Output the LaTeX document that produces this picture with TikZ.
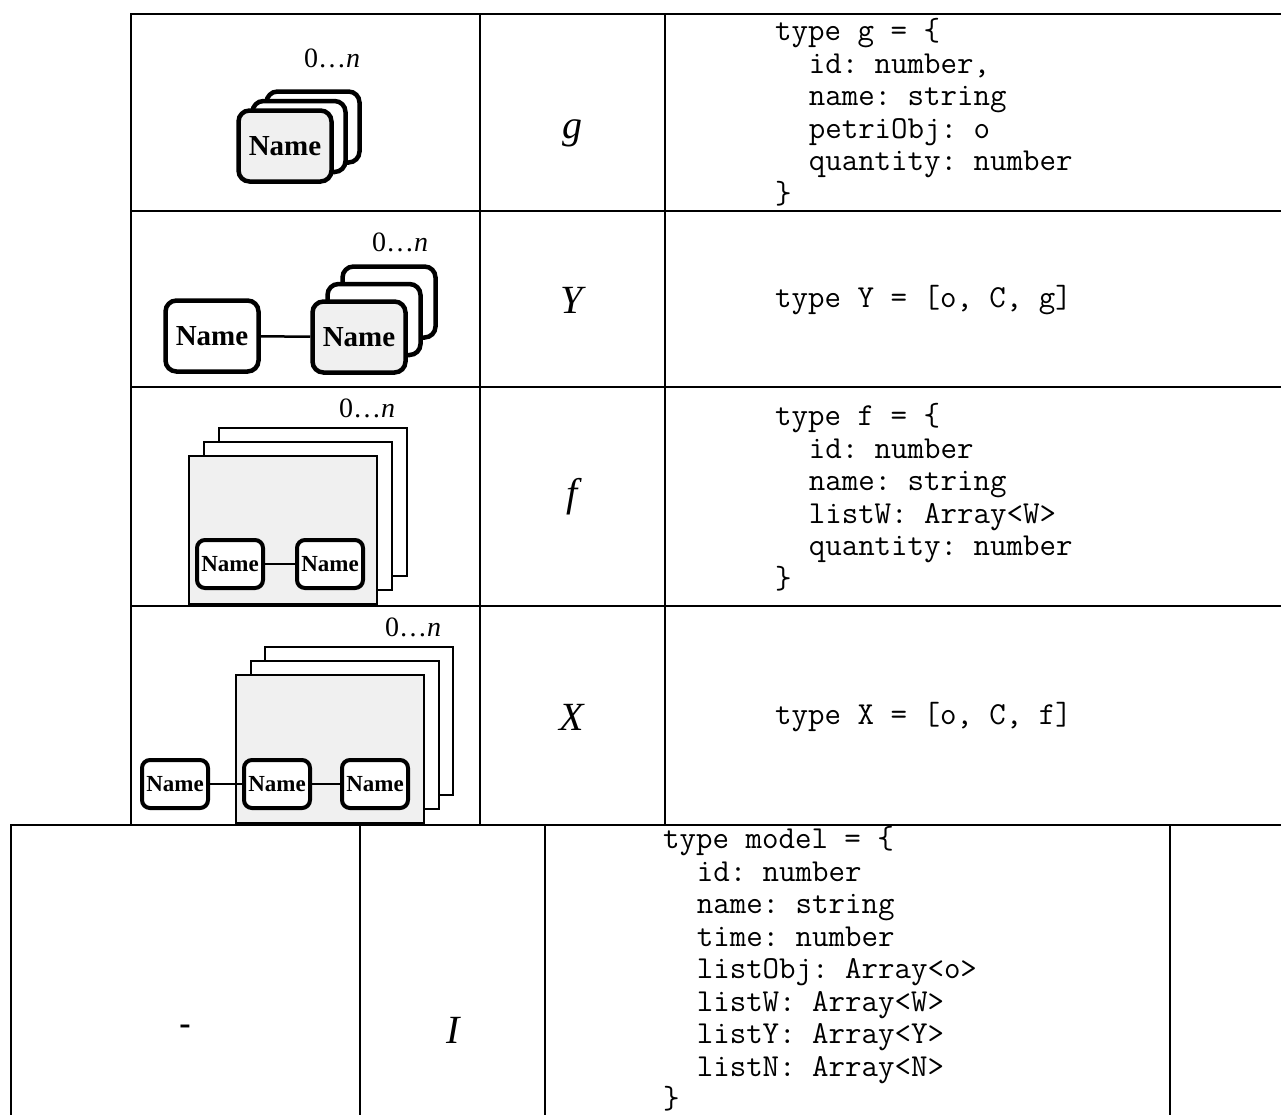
\documentclass[tikz,border=0pt]{standalone}
\usepackage{fontspec}
\setmainfont{Liberation Serif}
\usetikzlibrary{positioning}

\definecolor{cardgray}{RGB}{240,240,240}
\newcommand\codeind{\hspace*{33.6pt}}
\tikzset{
  card/.style={draw, line width=4.5pt, rounded corners=11pt, fill=white, minimum width=93pt,
    minimum height=71pt, inner sep=0pt, font=\bfseries\fontsize{29}{29}\selectfont},
  smallcard/.style={card, line width=4pt, rounded corners=8pt, minimum width=66pt,
    minimum height=48pt, font=\bfseries\fontsize{23}{23}\selectfont},
  sheet/.style={draw, line width=2pt, fill=white, minimum width=188pt, minimum height=148pt, inner sep=0pt},
  mult/.style={font=\fontsize{28}{28}\selectfont},
  symb/.style={font=\itshape\fontsize{40}{40}\selectfont},
  codetext/.style={font=\ttfamily\frenchspacing\fontsize{32}{32.5}\selectfont, align=left, anchor=west, inner sep=0pt},
  rule/.style={line width=2.7pt},
  wire/.style={line width=2.5pt}
}

\begin{document}
\begin{tikzpicture}[x=1pt, y=-1pt]
  \useasboundingbox (0,0) rectangle (1281,1114);
  \clip (0,0) rectangle (1281,1114);

  % g
  \foreach \k in {2,1}
    \node[card] (g\k) at (285+14*\k,146-9.5*\k) {};
  \node[card, fill=cardgray] (g0) at (285,146) {Name};
  \node[mult] (gn) at (332,58) {0\ldots\textit{n}};

  % Y
  \node[card] (Yo) at (212,336) {Name};
  \foreach \k in {2,1}
    \node[card] (Y\k) at (359+15*\k,337-17.5*\k) {};
  \node[card, fill=cardgray] (Y0) at (359,337) {Name};
  \draw[wire] (Yo) -- (Y0);
  \node[mult] (Yn) at (400,242) {0\ldots\textit{n}};

  % f
  \foreach \k in {2,1}
    \node[sheet] (f\k) at (283+15*\k,530-14*\k) {};
  \node[sheet, fill=cardgray] (f0) at (283,530) {};
  \node[smallcard] (fa) at (230,564) {Name};
  \node[smallcard] (fb) at (330,564) {Name};
  \draw[wire] (fa) -- (fb);
  \node[mult] (fn) at (367,408) {0\ldots\textit{n}};

  % X
  \foreach \k in {2,1}
    \node[sheet] (X\k) at (330+14.5*\k,749-14*\k) {};
  \node[sheet, fill=cardgray] (X0) at (330,749) {};
  \node[smallcard] (Xo) at (175,784) {Name};
  \node[smallcard] (Xa) at (277,784) {Name};
  \node[smallcard] (Xb) at (375,784) {Name};
  \draw[wire] (Xo) -- (Xa) (Xa) -- (Xb);
  \node[mult] (Xn) at (413,627) {0\ldots\textit{n}};

  \node[symb] (lg) at (572,133) {g};
  \node[symb] (lY) at (572,300) {Y};
  \node[symb] (lf) at (572,497) {f};
  \node[symb] (lX) at (572,717) {X};
  \node[symb] (lI) at (453,1030) {I};
  \node[mult, font=\bfseries\fontsize{34}{34}\selectfont] (dash) at (185,1030) {-};

  \node[codetext] (cg) at (775,112) {type g = \{\\
    \codeind id: number,\\
    \codeind name: string\\
    \codeind petriObj: o\\
    \codeind quantity: number\\
    \}};
  \node[codetext] (cY) at (775,300) {type Y = [o, C, g]};
  \node[codetext] (cf) at (775,497) {type f = \{\\
    \codeind id: number\\
    \codeind name: string\\
    \codeind listW: Array<W>\\
    \codeind quantity: number\\
    \}};
  \node[codetext] (cX) at (775,717) {type X = [o, C, f]};
  \node[codetext] (cI) at (663,969) {type model = \{\\
    \codeind id: number\\
    \codeind name: string\\
    \codeind time: number\\
    \codeind listObj: Array<o>\\
    \codeind listW: Array<W>\\
    \codeind listY: Array<Y>\\
    \codeind listN: Array<N>\\
    \}};

  \draw[rule] (131,825) -- (131,14) -- (1290,14);
  \foreach \y in {211,387,606}
    \draw[rule] (131,\y) -- (1290,\y);
  \foreach \x in {480,665}
    \draw[rule] (\x,14) -- (\x,825);
  \draw[rule] (11,1120) -- (11,825) -- (1290,825);
  \foreach \x in {360,545,1170}
    \draw[rule] (\x,825) -- (\x,1120);
\end{tikzpicture}
\end{document}
